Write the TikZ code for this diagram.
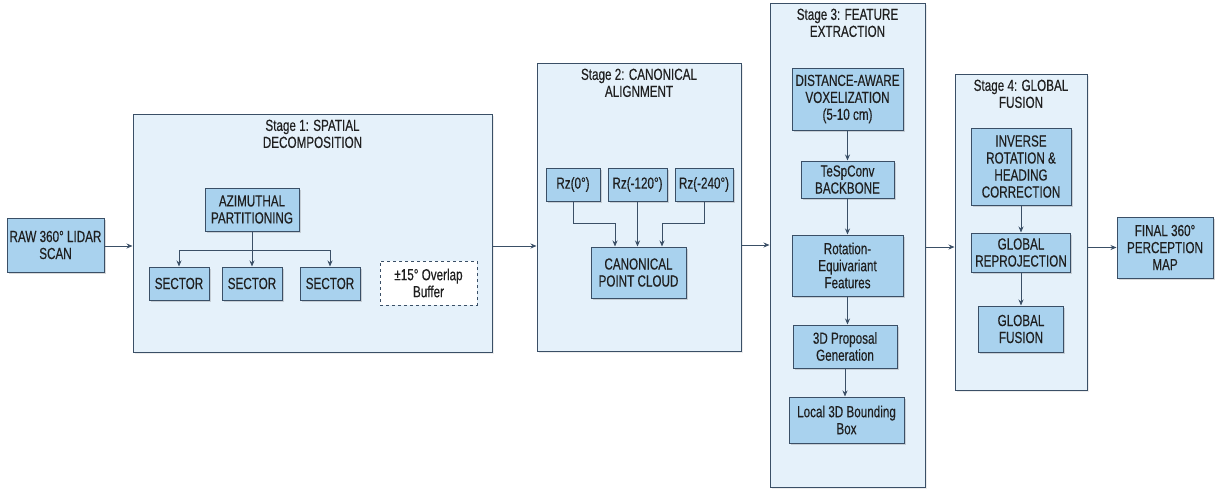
\documentclass[tikz,border=0pt]{standalone}
\usepackage{fontspec}
\setmainfont{Liberation Sans}[FakeStretch=0.73,FakeBold=0.3]
\usetikzlibrary{arrows.meta,shadows}

\definecolor{stagebg}{HTML}{E5F1FA}
\definecolor{boxfill}{HTML}{A9D2EE}
\definecolor{edge}{HTML}{3A4F66}

\tikzset{
  stage/.style={draw=edge, fill=stagebg, line width=1pt, drop shadow={opacity=0.15, shadow xshift=1.5pt, shadow yshift=-1.5pt}},
  blk/.style={draw=edge, fill=boxfill, line width=1pt, align=center, inner sep=0pt, drop shadow={opacity=0.3, shadow xshift=1.5pt, shadow yshift=-1.5pt}},
  buf/.style={draw=edge, fill=white, dashed, line width=0.8pt, align=center, inner sep=0pt},
  title/.style={anchor=north, align=center, inner sep=0pt, yshift=-6pt},
  arr/.style={draw=edge, line width=0.8pt, -{Stealth[length=6pt,width=5pt]}}
}

\begin{document}
\begin{tikzpicture}[x=1pt,y=-1pt,font=\fontsize{16}{17}\selectfont,text=black!88]
\useasboundingbox (0,0) rectangle (1218,488);

% input
\node[blk, minimum width=97pt, minimum height=54pt] (raw) at (55.5,245) {RAW 360° LIDAR\\SCAN};

% stage 1
\node[stage, minimum width=359pt, minimum height=238pt] (st1) at (312.5,233) {};
\node[title] (t1) at (st1.north) {Stage 1: SPATIAL\\DECOMPOSITION};
\node[blk, minimum width=94pt, minimum height=43pt] (azi) at (252,209.5) {AZIMUTHAL\\PARTITIONING};
\foreach \n/\x in {1/179,2/252,3/330}
  \node[blk, minimum width=60pt, minimum height=33pt] (sec\n) at (\x,283.5) {SECTOR};
\node[buf, minimum width=97pt, minimum height=44pt] (buffer) at (428.5,283) {±15° Overlap\\Buffer};
\coordinate (split) at (252,250);
\draw[draw=edge, line width=0.8pt] (azi.south) -- (split);
\draw[draw=edge, line width=0.8pt] (sec1 |- split) -- (sec3 |- split);
\foreach \n in {1,2,3} \draw[arr] (sec\n |- split) -- (sec\n.north);

% stage 2
\node[stage, minimum width=204pt, minimum height=288pt] (st2) at (639,207) {};
\node[title] (t2) at (st2.north) {Stage 2: CANONICAL\\ALIGNMENT};
\foreach \n/\x/\w/\a in {0/573/54/0,1/637.5/59/-120,2/704/58/-240}
  \node[blk, minimum width=\w pt, minimum height=33pt] (rz\n) at (\x,184.5) {Rz(\a°)};
\node[blk, minimum width=95pt, minimum height=51pt] (canon) at (638.5,272.5) {CANONICAL\\POINT CLOUD};
\coordinate (merge) at (638.5,223);
\draw[arr] (rz0.south) |- ([xshift=-23.5pt]merge) -- ([xshift=-23.5pt]canon.north);
\draw[arr] (rz1.south) -- (rz1.south |- canon.north);
\draw[arr] (rz2.south) |- ([xshift=23.5pt]merge) -- ([xshift=23.5pt]canon.north);

% stage 3
\node[stage, minimum width=155pt, minimum height=484pt] (st3) at (847.5,245) {};
\node[title] (t3) at (st3.north) {Stage 3: FEATURE\\EXTRACTION};
\node[blk, minimum width=111pt, minimum height=62pt] (vox) at (847.5,99) {DISTANCE-AWARE\\VOXELIZATION\\(5-10 cm)};
\node[blk, minimum width=93pt, minimum height=37pt] (tesp) at (847.5,179.5) {TeSpConv\\BACKBONE};
\node[blk, minimum width=111pt, minimum height=61pt] (rot) at (847.5,265.5) {Rotation-\\Equivariant\\Features};
\node[blk, minimum width=104pt, minimum height=43pt] (prop) at (845,346.5) {3D Proposal\\Generation};
\node[blk, minimum width=115pt, minimum height=46pt] (local) at (846.5,420) {Local 3D Bounding\\Box};
\draw[arr] (vox) -- (tesp);
\draw[arr] (tesp) -- (rot);
\draw[arr] (rot.south) -- (rot.south |- prop.north);
\draw[arr] (prop.south) -- (prop.south |- local.north);

% stage 4
\node[stage, minimum width=132pt, minimum height=316pt] (st4) at (1021,232) {};
\node[title] (t4) at (st4.north) {Stage 4: GLOBAL\\FUSION};
\node[blk, minimum width=100pt, minimum height=77pt] (inv) at (1021,166.5) {INVERSE\\ROTATION \&\\HEADING\\CORRECTION};
\node[blk, minimum width=99pt, minimum height=39pt] (reproj) at (1021,252.5) {GLOBAL\\REPROJECTION};
\node[blk, minimum width=85pt, minimum height=46pt] (gfus) at (1021,329) {GLOBAL\\FUSION};
\draw[arr] (inv) -- (reproj);
\draw[arr] (reproj) -- (gfus);

% output
\node[blk, minimum width=96pt, minimum height=61pt] (final) at (1165,247.5) {FINAL 360°\\PERCEPTION\\MAP};

% main flow
\draw[arr] (raw.east |- 0,246) -- (st1.west |- 0,246);
\draw[arr] (st1.east |- 0,246) -- (st2.west |- 0,246);
\draw[arr] (st2.east |- 0,245) -- (st3.west |- 0,245);
\draw[arr] (st3.east |- 0,247) -- (st4.west |- 0,247);
\draw[arr] (st4.east |- final) -- (final);
\end{tikzpicture}
\end{document}
